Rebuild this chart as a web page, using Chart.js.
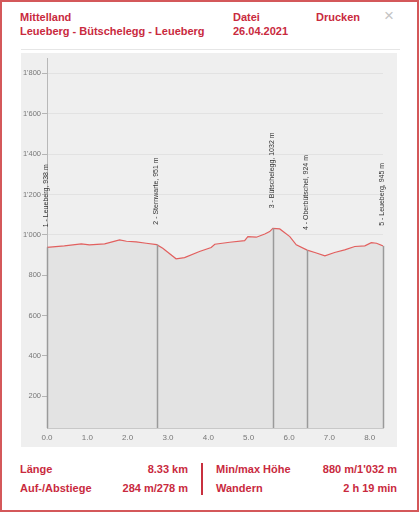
<!DOCTYPE html>
<html>
<head>
<meta charset="utf-8">
<script src="https://cdn.jsdelivr.net/npm/chart.js@4/dist/chart.umd.min.js"></script>
<style>
  html, body { margin:0; padding:0; background:#fff; }
  body { width:419px; height:512px; position:relative; overflow:hidden;
         font-family:"Liberation Sans", Arial, sans-serif; }
  #frame { position:absolute; left:0; top:0; width:419px; height:512px;
           box-sizing:border-box; border:2px solid #d4585a; }
  .t { position:absolute; color:#c92a3e; font-weight:bold; font-size:11px; line-height:14px; white-space:nowrap; }
  .r { text-align:right; }
  #close { position:absolute; left:384px; top:7px; font-size:17px; color:#c4c4c4; line-height:18px; }
  #sep { position:absolute; left:21px; top:49px; width:379px; height:1px; background:#e6e6e6; }
  #panel { position:absolute; left:21px; top:53px; width:376px; height:394px; background:#efefef; }
  #divider { position:absolute; left:201px; top:463px; width:2px; height:32px; background:#c8303f; }
</style>
</head>
<body>
<div id="frame"></div>
<div class="t" style="left:20px;top:10px">Mittelland</div>
<div class="t" style="left:20px;top:24px">Leueberg - Bütschelegg - Leueberg</div>
<div class="t" style="left:233px;top:10px">Datei</div>
<div class="t" style="left:233px;top:24px">26.04.2021</div>
<div class="t" style="left:316px;top:10px">Drucken</div>
<div id="close">×</div>
<div id="sep"></div>
<div id="panel"><canvas id="c" width="376" height="394" style="width:376px;height:394px"></canvas></div>
<div class="t" style="left:20px;top:462px">Länge</div>
<div class="t r" style="left:100px;width:88px;top:462px">8.33 km</div>
<div class="t" style="left:20px;top:481px">Auf-/Abstiege</div>
<div class="t r" style="left:100px;width:88px;top:481px">284 m/278 m</div>
<div id="divider"></div>
<div class="t" style="left:216px;top:462px">Min/max Höhe</div>
<div class="t r" style="left:300px;width:97px;top:462px">880 m/1'032 m</div>
<div class="t" style="left:216px;top:481px">Wandern</div>
<div class="t r" style="left:300px;width:97px;top:481px">2 h 19 min</div>
<script>
// ---- data ----
const distanceKm = [0, 0.43, 0.85, 1.05, 1.43, 1.8, 1.97, 2.21, 2.46, 2.72, 2.87, 3.2, 3.41, 3.78, 4.07, 4.16, 4.53, 4.9, 4.98, 5.19, 5.4, 5.52, 5.6, 5.77, 6.02, 6.18, 6.45, 6.64, 6.89, 7.13, 7.38, 7.63, 7.88, 8.04, 8.17, 8.33];
const elevationM = [938, 945, 955, 950, 955, 975, 968, 965, 958, 951, 933, 881, 887, 917, 937, 953, 963, 971, 991, 988, 1004, 1016, 1032, 1029, 991, 950, 924, 912, 896, 912, 925, 942, 945, 961, 958, 945];
const waypointKm = [0, 2.72, 5.6, 6.45, 8.33];
const waypointElev = [938, 951, 1032, 924, 945];
const waypointLabels = ["1 - Leueberg, 938 m", "2 - Sternwarte, 951 m", "3 - Bütschelegg, 1032 m", "4 - Oberbütschel, 924 m", "5 - Leueberg, 945 m"];
const xTicks = [0, 1, 2, 3, 4, 5, 6, 7, 8];
const yTicks = [200, 400, 600, 800, 1000, 1200, 1400, 1600, 1800];
const xMax = 8.33;
const yMin = 42, yMax = 1874;

Chart.defaults.font.family = '"Liberation Sans", Arial, sans-serif';

const waypointPlugin = {
  id: 'waypoints',
  afterDatasetsDraw(chart) {
    const ctx = chart.ctx, xs = chart.scales.x, ys = chart.scales.y, area = chart.chartArea;
    ctx.save();
    waypointKm.forEach((km, i) => {
      const x = Math.round(xs.getPixelForValue(km)) + 0.5;
      const y = ys.getPixelForValue(waypointElev[i]);
      ctx.strokeStyle = '#9a9a9a';
      ctx.lineWidth = 1.5;
      ctx.beginPath();
      ctx.moveTo(x, y);
      ctx.lineTo(x, area.bottom);
      ctx.stroke();
      ctx.save();
      ctx.translate(x - 1, y - 20);
      ctx.rotate(-Math.PI / 2);
      ctx.fillStyle = '#333';
      ctx.font = '7px "Liberation Sans", Arial, sans-serif';
      ctx.textAlign = 'left';
      ctx.textBaseline = 'middle';
      ctx.fillText(waypointLabels[i], 0, 0);
      ctx.restore();
    });
    ctx.restore();
  }
};

new Chart(document.getElementById('c'), {
  type: 'line',
  data: {
    datasets: [{
      data: distanceKm.map((d, i) => ({ x: d, y: elevationM[i] })),
      borderColor: '#e2605f',
      borderWidth: 1.2,
      backgroundColor: '#e3e3e3',
      fill: 'start',
      pointRadius: 0,
      tension: 0
    }]
  },
  options: {
    responsive: false,
    animation: false,
    devicePixelRatio: 1,
    layout: { padding: { top: 4, right: 14, left: 0, bottom: 0 } },
    plugins: { legend: { display: false }, tooltip: { enabled: false } },
    scales: {
      x: {
        type: 'linear', min: 0, max: xMax,
        afterBuildTicks: s => { s.ticks = xTicks.map(v => ({ value: v })); },
        afterFit: s => { s.height = 19; },
        ticks: { callback: v => Number(v).toFixed(1), color: '#777', font: { size: 8 }, padding: 5, maxRotation: 0 },
        grid: { display: false, drawTicks: false },
        border: { display: true, color: '#c8c8c8' }
      },
      y: {
        type: 'linear', min: yMin, max: yMax,
        afterBuildTicks: s => { s.ticks = yTicks.map(v => ({ value: v })); },
        afterFit: s => { s.width = 26; },
        ticks: {
          callback: v => v >= 1000 ? Math.floor(v / 1000) + "'" + String(v % 1000).padStart(3, '0') : String(v),
          color: '#777', font: { size: 7.5 }, padding: 1
        },
        grid: { color: '#e2e2e2', tickColor: '#b5b5b5', tickLength: 5 },
        border: { display: true, color: '#b8b8b8' }
      }
    }
  },
  plugins: [waypointPlugin]
});
</script>
</body>
</html>
